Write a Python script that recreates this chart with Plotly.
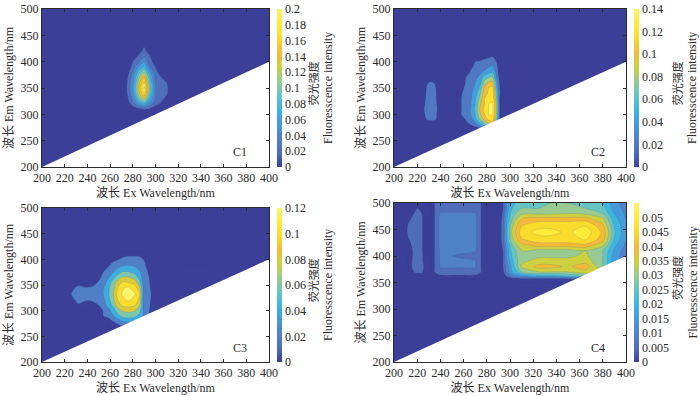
import plotly.graph_objects as go

W, H = 700, 396
SERIF = "Liberation Serif"
CJK = "Noto Sans CJK SC"
INK = "#2a2a2a"
PARULA = [[0, "#3b3f98"], [0.09, "#4f6db9"], [0.18, "#4f82c8"], [0.27, "#4599da"], [0.36, "#3cb4e2"], [0.45, "#64c4c4"],
          [0.545, "#98ca92"], [0.636, "#cdd13f"], [0.727, "#f5b93a"], [0.82, "#f9dc2b"], [0.91, "#fdeb3a"], [1, "#fdf36b"]]

# C1
c1_ex = [200, 270, 275, 280, 285, 290, 295, 300, 305, 310, 315, 400]
c1_em = [200, 300, 310, 320, 330, 340, 350, 360, 370, 380, 390, 400, 410, 420, 430, 440, 500]
c1_z = [
    [0]*12,
    [0]*12,
    [0, 0, 0, .008, .015, .022, .018, .012, .006, .002, 0, 0],
    [0, 0, .008, .03, .06, .08, .05, .025, .018, .008, 0, 0],
    [0, 0, .015, .045, .10, .14, .08, .035, .024, .016, 0, 0],
    [0, 0, .02, .055, .13, .18, .10, .04, .028, .022, .002, 0],
    [0, 0, .021, .06, .14, .205, .11, .04, .028, .024, .003, 0],
    [0, 0, .02, .055, .13, .185, .10, .038, .026, .02, 0, 0],
    [0, 0, .016, .05, .11, .16, .085, .032, .02, .01, 0, 0],
    [0, 0, .01, .04, .09, .12, .065, .026, .012, 0, 0, 0],
    [0, 0, .006, .026, .06, .085, .04, .02, .004, 0, 0, 0],
    [0, 0, 0, .02, .035, .055, .028, .01, 0, 0, 0, 0],
    [0, 0, 0, .008, .024, .04, .022, .004, 0, 0, 0, 0],
    [0, 0, 0, 0, .012, .026, .01, 0, 0, 0, 0, 0],
    [0, 0, 0, 0, 0, .018, 0, 0, 0, 0, 0, 0],
    [0]*12,
    [0]*12,
]

# C2
c2_ex = [200, 224, 228, 232, 236, 240, 254, 258, 262, 266, 270, 274, 278, 282, 285, 288, 292, 400]
c2_em = [200, 270, 280, 290, 300, 310, 320, 330, 340, 350, 360, 370, 380, 390, 400, 410, 420, 500]
c2_z = [
    [0]*18,
    [0]*18,
    [0, 0, 0, 0, 0, 0, 0, 0, .01, .02, .03, .05, .07, .09, .1, .05, 0, 0],
    [0, 0, .021, .024, .022, 0, 0, .005, .022, .03, .05, .08, .105, .125, .13, .08, 0, 0],
    [0, .012, .024, .026, .024, .004, 0, .02, .03, .04, .06, .095, .12, .14, .142, .10, 0, 0],
    [0, .016, .024, .026, .025, .008, 0, .02, .03, .04, .065, .10, .125, .142, .145, .10, 0, 0],
    [0, .012, .024, .026, .024, .005, 0, .02, .03, .038, .06, .095, .12, .14, .142, .10, 0, 0],
    [0, .004, .024, .026, .023, 0, 0, .02, .03, .036, .055, .085, .12, .13, .135, .09, 0, 0],
    [0, 0, .022, .026, .022, 0, 0, .018, .028, .035, .05, .075, .11, .125, .128, .08, .01, 0],
    [0, 0, .021, .025, .021, 0, 0, .012, .026, .033, .045, .065, .105, .122, .125, .07, .008, 0],
    [0, 0, .017, .024, .017, 0, 0, 0, .023, .03, .04, .05, .09, .103, .105, .06, .005, 0],
    [0, 0, 0, 0, 0, 0, 0, 0, .02, .026, .035, .045, .07, .08, .085, .045, .003, 0],
    [0, 0, 0, 0, 0, 0, 0, 0, .008, .022, .03, .035, .045, .055, .06, .035, 0, 0],
    [0, 0, 0, 0, 0, 0, 0, 0, 0, .016, .024, .027, .03, .04, .045, .03, 0, 0],
    [0, 0, 0, 0, 0, 0, 0, 0, 0, .005, .02, .022, .024, .026, .03, .022, 0, 0],
    [0, 0, 0, 0, 0, 0, 0, 0, 0, 0, 0, .01, .015, .018, .019, .005, 0, 0],
    [0]*18,
    [0]*18,
]

# C3
c3_ex = [200, 222, 226, 232, 238, 244, 250, 254, 259, 263, 266, 270, 276, 282, 286, 289, 293, 297, 400]
c3_em = [200, 270, 280, 290, 300, 310, 320, 332, 345, 355, 365, 375, 385, 395, 405, 415, 500]
c3_z = [
    [0]*19,
    [0, 0, 0, 0, 0, 0, 0, 0, 0, .005, .012, .018, .022, .022, .02, .015, .01, .005, 0],
    [0, 0, 0, 0, 0, 0, 0, .01, .015, .022, .03, .04, .045, .044, .04, .03, .02, .01, 0],
    [0, 0, 0, 0, 0, 0, .01, .02, .024, .04, .05, .065, .07, .065, .055, .04, .024, .012, 0],
    [0, 0, 0, 0, 0, 0, .012, .021, .035, .05, .065, .08, .085, .08, .065, .04, .024, .014, 0],
    [0, 0, .005, .018, .012, .015, .02, .03, .05, .065, .085, .10, .105, .10, .08, .04, .025, .016, 0],
    [0, 0, .015, .024, .021, .021, .026, .035, .055, .075, .095, .115, .122, .115, .09, .04, .026, .017, 0],
    [0, 0, .021, .027, .024, .024, .03, .04, .06, .08, .10, .12, .126, .12, .10, .04, .027, .018, 0],
    [0, 0, .015, .024, .021, .022, .028, .038, .058, .075, .095, .118, .122, .11, .085, .04, .026, .016, 0],
    [0, 0, 0, .012, .008, .012, .022, .03, .05, .07, .085, .10, .10, .09, .065, .036, .025, .014, 0],
    [0, 0, 0, 0, 0, 0, .015, .026, .04, .055, .065, .08, .082, .07, .05, .034, .024, .012, 0],
    [0, 0, 0, 0, 0, 0, .008, .02, .03, .04, .048, .06, .062, .055, .042, .03, .021, .008, 0],
    [0, 0, 0, 0, 0, 0, 0, .008, .022, .03, .036, .042, .045, .04, .034, .026, .017, .005, 0],
    [0, 0, 0, 0, 0, 0, 0, 0, .012, .021, .024, .027, .03, .032, .028, .024, .014, 0, 0],
    [0, 0, 0, 0, 0, 0, 0, 0, 0, .006, .012, .018, .022, .022, .02, .016, .01, 0, 0],
    [0]*19,
    [0]*19,
]

# C4
c4_ex = [200, 209, 212, 216, 220, 224, 227, 232, 235, 240, 255, 270, 275, 280, 290, 294, 298, 302, 310, 325, 335, 350, 365, 380, 390, 400]
c4_em = [200, 350, 356, 362, 370, 380, 390, 400, 410, 420, 430, 445, 460, 470, 480, 490, 500]
c4_z = [
    [0]*26,
    [0]*26,
    [0]*15 + [0, 0, .002, .002, .002, .002, .002, .002, .002, .002, 0],
    [0, 0, 0, 0, 0, 0, 0, 0, .003, .004, .004, .004, .003, 0, 0, .002, .006, .012, .017, .022, .022, .025, .028, .028, .02, .012],
    [0, 0, 0, .004, .007, .007, 0, 0, .005, .008, .008, .008, .005, 0, 0, .004, .012, .02, .03, .035, .035, .035, .038, .035, .02, .012],
    [0, 0, 0, .006, .008, .008, .002, 0, .005, .0105, .0105, .0105, .005, 0, 0, .005, .014, .022, .036, .042, .042, .039, .043, .03, .018, .012],
    [0, 0, 0, .006, .008, .007, 0, 0, .005, .011, .011, .0105, .005, 0, 0, .005, .016, .024, .034, .037, .037, .037, .038, .03, .017, .012],
    [0, 0, 0, .005, .007, .007, 0, 0, .005, .011, .0095, .008, .005, 0, 0, .005, .018, .026, .034, .034, .034, .034, .036, .03, .018, .012],
    [0, 0, 0, .005, .007, .006, 0, 0, .005, .011, .011, .0105, .005, 0, 0, .005, .018, .027, .035, .033, .033, .033, .035, .03, .019, .012],
    [0, 0, .002, .006, .007, .006, 0, 0, .005, .012, .013, .0115, .005, 0, 0, .006, .02, .03, .038, .042, .042, .042, .043, .036, .021, .014],
    [0, 0, .004, .007, .008, .006, 0, 0, .005, .012, .013, .0115, .005, 0, 0, .008, .024, .034, .044, .048, .048, .048, .05, .042, .024, .015],
    [0, 0, .006, .008, .008, .006, 0, 0, .005, .012, .013, .0115, .005, 0, 0, .008, .025, .036, .048, .0515, .0515, .049, .053, .044, .026, .016],
    [0, 0, .005, .007, .008, .006, 0, 0, .005, .012, .013, .0115, .005, 0, 0, .008, .024, .034, .044, .048, .048, .048, .049, .04, .024, .016],
    [0, 0, .003, .006, .008, .006, 0, 0, .005, .012, .013, .0115, .005, 0, 0, .007, .022, .03, .04, .042, .042, .042, .042, .036, .022, .015],
    [0, 0, 0, .004, .007, .005, 0, 0, .005, .0105, .0105, .0102, .005, 0, 0, .006, .02, .028, .034, .034, .034, .035, .034, .03, .02, .014],
    [0, 0, 0, 0, .005, 0, 0, 0, .005, .008, .008, .008, .005, 0, 0, .005, .018, .025, .03, .03, .032, .032, .03, .027, .018, .013],
    [0, 0, 0, 0, 0, 0, 0, 0, .005, .008, .008, .008, .005, 0, 0, .005, .018, .024, .027, .027, .03, .03, .028, .025, .017, .012],
]

ex_ticks = [200, 220, 240, 260, 280, 300, 320, 340, 360, 380, 400]
em_ticks = [200, 250, 300, 350, 400, 450, 500]
mask_ex = [200, 400, 400, 200]
mask_em = [200, 400, 200, 200]

c1_bar = [0, .02, .04, .06, .08, .1, .12, .14, .16, .18, .2]
c2_bar = [0, .02, .04, .06, .08, .1, .12, .14]
c3_bar = [0, .02, .04, .06, .08, .1, .12]
c4_bar = [0, .005, .01, .015, .02, .025, .03, .035, .04, .045, .05]

panels = [
    dict(name="C1", ex=c1_ex, em=c1_em, z=c1_z, step=.02, top=.2, bar=c1_bar, box=(42, 269, 9, 167), cb=(277, 5), lx=(313, 328), tag=(240, 152)),
    dict(name="C2", ex=c2_ex, em=c2_em, z=c2_z, step=.02, top=.14, bar=c2_bar, box=(394, 626, 9, 167), cb=(634, 5), lx=(677, 692), tag=(598, 152)),
    dict(name="C3", ex=c3_ex, em=c3_em, z=c3_z, step=.02, top=.12, bar=c3_bar, box=(42, 269, 208, 362), cb=(277, 5), lx=(313, 328), tag=(240, 348)),
    dict(name="C4", ex=c4_ex, em=c4_em, z=c4_z, step=.005, top=.055, bar=c4_bar, box=(394, 626, 203, 362), cb=(634, 5), lx=(677, 692), tag=(598, 348)),
]

fig = go.Figure()
annotations = []
layout = {}
for i, p in enumerate(panels, start=1):
    xa, ya = f"x{i}", f"y{i}"
    l, r, t, b = p["box"]
    half = p["step"] / 2
    fig.add_trace(go.Contour(
        x=p["ex"], y=p["em"], z=p["z"], xaxis=xa, yaxis=ya, showscale=False,
        colorscale=PARULA, zmin=half, zmax=p["top"] + half, autocontour=False,
        contours=dict(start=0, end=p["top"] + p["step"], size=p["step"], coloring="fill"),
        line=dict(color="rgba(60,70,120,0.3)", width=0.5, smoothing=0.8),
        hoverinfo="skip"))
    fig.add_trace(go.Scatter(
        x=mask_ex, y=mask_em, xaxis=xa, yaxis=ya, mode="lines", fill="toself",
        fillcolor="white", line=dict(width=0, color="white"), hoverinfo="skip", showlegend=False))
    cbx, cbw = p["cb"]
    fig.add_trace(go.Scatter(
        x=[None], y=[None], xaxis=xa, yaxis=ya, mode="markers", showlegend=False,
        marker=dict(color=[0], cmin=0, cmax=p["top"], colorscale=PARULA, showscale=True, colorbar=dict(
            x=cbx / W, xanchor="left", xref="paper", y=1 - b / H, yanchor="bottom", yref="paper",
            len=(b - t) / H, lenmode="fraction", thickness=cbw, thicknessmode="pixels",
            outlinewidth=0, ticks="", ticklen=0, xpad=0, ypad=0,
            tickmode="array", tickvals=p["bar"], ticktext=[f"{v:g}" for v in p["bar"]],
            tickfont=dict(family=SERIF, size=12, color=INK)))))
    common = dict(showline=True, linecolor=INK, linewidth=1, mirror="ticks", ticks="inside", ticklen=3,
                  tickcolor=INK, showgrid=False, zeroline=False,
                  tickfont=dict(family=SERIF, size=12, color=INK))
    layout[f"xaxis{i}"] = dict(common, domain=[l / W, r / W], range=[200, 400], anchor=ya, tickmode="array", tickvals=ex_ticks,
                               title=dict(text="波长 Ex Wavelength/nm", standoff=4, font=dict(family=f"{SERIF}, {CJK}", size=12, color=INK)))
    layout[f"yaxis{i}"] = dict(common, domain=[1 - b / H, 1 - t / H], range=[200, 500], anchor=xa, tickmode="array", tickvals=em_ticks,
                               title=dict(text="波长 Em Wavelength/nm", standoff=4, font=dict(family=f"{SERIF}, {CJK}", size=12, color=INK)))
    mid = 1 - (t + b) / 2 / H
    anchor = dict(xanchor="center", yanchor="middle", xref="paper", yref="paper", showarrow=False)
    annotations.append(dict(anchor, text="荧光强度", x=p["lx"][0] / W, y=mid + 0.012, textangle=-90,
                            font=dict(family=CJK, size=11, color=INK)))
    annotations.append(dict(anchor, text="Fluoresscence intensity", x=p["lx"][1] / W, y=mid, textangle=-90,
                            font=dict(family=SERIF, size=12, color=INK)))
    annotations.append(dict(anchor, text=p["name"], x=p["tag"][0] / W, y=1 - p["tag"][1] / H,
                            font=dict(family=SERIF, size=12, color=INK)))

fig.update_layout(width=W, height=H, margin=dict(l=0, r=0, t=0, b=0, autoexpand=False), paper_bgcolor="white", plot_bgcolor="white",
                  showlegend=False, annotations=annotations, **layout)
fig.write_html("out.html", config=dict(displayModeBar=False),
               post_script="document.body.style.margin='0';document.body.style.overflow='hidden';")
